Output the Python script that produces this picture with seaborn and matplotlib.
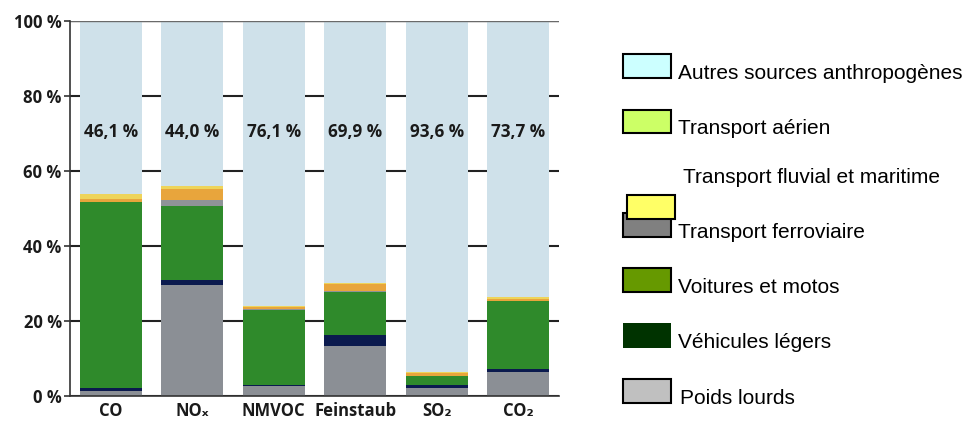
import matplotlib
matplotlib.use("Agg")
import matplotlib.pyplot as plt
from matplotlib.patches import Rectangle
import numpy as np
import pandas as pd
import seaborn as sns

# Emission shares (%) by pollutant, stacked from the bottom up
categories = ["CO", "NOₓ", "NMVOC", "Feinstaub", "SO₂", "CO₂"]
poids_lourds = [1.2, 29.5, 2.7, 13.4, 2.2, 6.5]
vehicules_legers = [1.0, 1.5, 0.3, 2.9, 0.6, 0.8]
voitures_motos = [49.5, 19.7, 20.0, 11.4, 2.4, 18.0]
ferroviaire = [0.0, 1.5, 0.1, 0.2, 0.1, 0.1]
fluvial_maritime = [0.8, 3.0, 0.5, 2.0, 0.8, 0.5]
aerien = [1.4, 0.8, 0.3, 0.2, 0.3, 0.4]
autres = [46.1, 44.0, 76.1, 69.9, 93.6, 73.7]
yticks = [0, 20, 40, 60, 80, 100]

layers = [poids_lourds, vehicules_legers, voitures_motos, ferroviaire,
          fluvial_maritime, aerien, autres]
bar_colors = ["#8b8f95", "#0b1a4e", "#2f8a2b", "#8f9397",
              "#e8a53c", "#eed45a", "#cfe1ea"]

# Legend entries (own swatch colours)
legend_labels = ["Autres sources anthropogènes", "Transport aérien",
                 "Transport fluvial et maritime", "Transport ferroviaire",
                 "Voitures et motos", "Véhicules légers", "Poids lourds"]
legend_colors = ["#ccffff", "#ccff66", "#ffff66", "#808080",
                 "#669900", "#003300", "#c0c0c0"]

sns.set_style("white")
plt.rcParams["font.family"] = ["Open Sans", "DejaVu Sans"]

W, H = 968, 421
fig = plt.figure(figsize=(W / 100, H / 100), dpi=100)
ax = fig.add_axes([70 / W, 25 / H, 489 / W, 375.5 / H])

# Stack by overlaying cumulative totals, tallest first
cum = np.cumsum(np.array(layers, dtype=float), axis=0)
for k in range(len(layers) - 1, -1, -1):
    df = pd.DataFrame({"cat": categories, "val": cum[k]})
    sns.barplot(data=df, x="cat", y="val", color=bar_colors[k],
                saturation=1, width=0.765, linewidth=0, errorbar=None,
                ax=ax, zorder=2)

for i, v in enumerate(autres):
    ax.text(i, 70.3, f"{v:.1f} %".replace(".", ","), ha="center",
            va="center", fontsize=12.3, fontweight="bold", color="#1a1a1a",
            zorder=5)

ax.set_ylim(0, 100)
ax.set_xlim(-0.5, len(categories) - 0.5)
ax.set_yticks(yticks)
ax.set_yticklabels([f"{t} %" for t in yticks], fontsize=12,
                   fontweight="bold", color="#1a1a1a")
ax.set_xticks(range(len(categories)))
ax.set_xticklabels(categories, fontsize=12, fontweight="bold",
                   color="#1a1a1a")
ax.set_xticks(np.arange(0.5, len(categories) - 0.5, 1.0), minor=True)
ax.tick_params(axis="x", which="major", length=0, pad=4)
ax.tick_params(axis="x", which="minor", length=3, width=1, color="#333333")
ax.tick_params(axis="y", which="major", length=4, width=1.2,
               color="#333333", pad=2, left=True)
ax.set_xlabel("")
ax.set_ylabel("")

ax.set_axisbelow(True)
ax.yaxis.grid(True, color="#222222", linewidth=1.5, zorder=0)
ax.xaxis.grid(False)
# thin rule along the top of the bars
ax.axhline(100, color="#6a6a6a", linewidth=1.0, zorder=3)
for side in ["top", "right"]:
    ax.spines[side].set_visible(False)
for side in ["left", "bottom"]:
    ax.spines[side].set_color("#333333")
    ax.spines[side].set_linewidth(1.2)
    ax.spines[side].set_zorder(4)


def swatch(x0, y0, x1, y1, fc, edge=True):
    fig.add_artist(Rectangle((x0 / W, 1 - y1 / H), (x1 - x0) / W,
                             (y1 - y0) / H, transform=fig.transFigure,
                             facecolor=fc,
                             edgecolor="black" if edge else fc,
                             linewidth=1.5 if edge else 0))


def label(x, y, s):
    fig.text(x / W, 1 - y / H, s, ha="left", va="baseline", fontsize=15,
             family=["Liberation Sans", "DejaVu Sans"], color="#000000")


swatch(623, 53.5, 671, 77.5, legend_colors[0])
label(678, 79, legend_labels[0])
swatch(623, 109.5, 671, 132.5, legend_colors[1])
label(678, 134, legend_labels[1])
label(683, 183.3, legend_labels[2])
swatch(623, 212.5, 671, 236.5, legend_colors[3])
swatch(627, 195, 675, 219, legend_colors[2])
label(678, 238.3, legend_labels[3])
swatch(623, 268, 671, 292, legend_colors[4])
label(678, 293.3, legend_labels[4])
swatch(622.5, 322.5, 671, 347.5, legend_colors[5], edge=False)
label(678, 348.3, legend_labels[5])
swatch(623, 379, 671, 402.5, legend_colors[6])
label(680, 404, legend_labels[6])

fig.savefig("out.png", dpi=100)
